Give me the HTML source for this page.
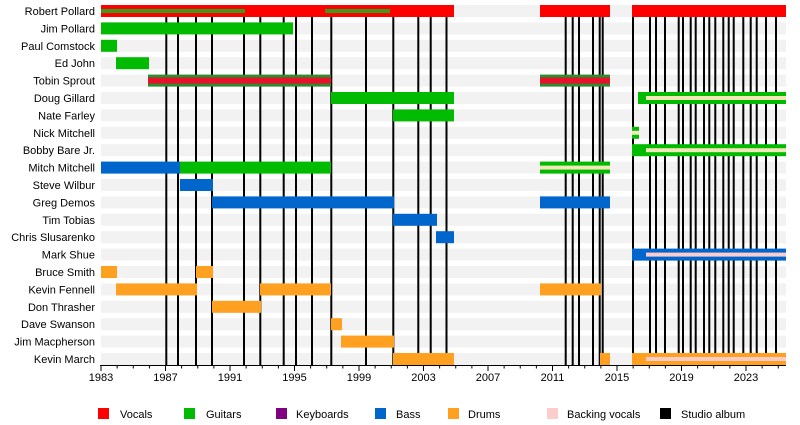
<!DOCTYPE html>
<html><head><meta charset="utf-8"><style>body{margin:0;background:#fff}svg{display:block}text{font-family:"Liberation Sans",sans-serif;font-size:11px;fill:#000}</style></head>
<body>
<svg id="s" width="800" height="425" xmlns="http://www.w3.org/2000/svg">
<g id="bg"></g><g id="vl"></g><g id="bars"></g>
<g text-anchor="end">
<text x="95" y="15">Robert Pollard</text>
<text x="95" y="32.4">Jim Pollard</text>
<text x="95" y="49.8">Paul Comstock</text>
<text x="95" y="67.2">Ed John</text>
<text x="95" y="84.6">Tobin Sprout</text>
<text x="95" y="102">Doug Gillard</text>
<text x="95" y="119.4">Nate Farley</text>
<text x="95" y="136.8">Nick Mitchell</text>
<text x="95" y="154.2">Bobby Bare Jr.</text>
<text x="95" y="171.6">Mitch Mitchell</text>
<text x="95" y="189">Steve Wilbur</text>
<text x="95" y="206.4">Greg Demos</text>
<text x="95" y="223.8">Tim Tobias</text>
<text x="95" y="241.2">Chris Slusarenko</text>
<text x="95" y="258.6">Mark Shue</text>
<text x="95" y="276">Bruce Smith</text>
<text x="95" y="293.4">Kevin Fennell</text>
<text x="95" y="310.8">Don Thrasher</text>
<text x="95" y="328.2">Dave Swanson</text>
<text x="95" y="345.6">Jim Macpherson</text>
<text x="95" y="363">Kevin March</text>
</g>
<line x1="100" y1="365.5" x2="786" y2="365.5" stroke="#000"/>
<g id="ticks"></g>
<g text-anchor="middle">
<text x="101" y="381">1983</text><text x="165.5" y="381">1987</text><text x="230" y="381">1991</text><text x="294.5" y="381">1995</text><text x="359" y="381">1999</text><text x="423.5" y="381">2003</text><text x="488" y="381">2007</text><text x="552.5" y="381">2011</text><text x="617" y="381">2015</text><text x="681.5" y="381">2019</text><text x="746" y="381">2023</text>
</g>
<rect x="98" y="408" width="11" height="11" fill="#ff0000"/><text x="120" y="418">Vocals</text>
<rect x="184" y="408" width="11" height="11" fill="#00bb00"/><text x="206" y="418">Guitars</text>
<rect x="276" y="408" width="11" height="11" fill="#800080"/><text x="296" y="418">Keyboards</text>
<rect x="375" y="408" width="11" height="11" fill="#0066cc"/><text x="396" y="418">Bass</text>
<rect x="448" y="408" width="11" height="11" fill="#ffa020"/><text x="468" y="418">Drums</text>
<rect x="547" y="408" width="11" height="11" fill="#ffcccc"/><text x="567" y="418">Backing vocals</text>
<rect x="660" y="408" width="11" height="11" fill="#000"/><text x="681" y="418">Studio album</text>
</svg>
<script>
const NS="http://www.w3.org/2000/svg";
function r(g,x1,x2,y,h,c){const e=document.createElementNS(NS,"rect");e.setAttribute("x",x1);e.setAttribute("y",y);e.setAttribute("width",x2-x1);e.setAttribute("height",h);e.setAttribute("fill",c);document.getElementById(g).appendChild(e);}
function l(g,x1,y1,x2,y2,w){const e=document.createElementNS(NS,"line");e.setAttribute("x1",x1);e.setAttribute("y1",y1);e.setAttribute("x2",x2);e.setAttribute("y2",y2);e.setAttribute("stroke","#000");e.setAttribute("stroke-width",w);document.getElementById(g).appendChild(e);}
const T=i=>5+i*17.4;
for(let i=0;i<21;i++)r("bg",101,786,T(i),12,"#f2f2f2");
[166.3,178,196,212,244,260.3,283.7,296,312,331.3,366,393.3,418.3,430.7,446.5,565.7,572.7,579,593,599.7,602.7,633,650,656,665,678.7,683,690.7,695.7,704,709.3,715.3,723.3,728.7,733.7,743.3,750.7,756.7,766,776].forEach(x=>l("vl",x,8,x,365,2));
for(let y=0;y<=42;y++){const x=101+y*16.125;if(x>786)break;l("ticks",x,365,x,y%4==0?371:368.5,1);}
const R="#ff0000",G="#00bb00",B="#0066cc",O="#ffa020",C="#f3e6b8",P="#ffcccc",D="#2e8b2e";
function b(i,x1,x2,c){r("bars",x1,x2,T(i),12,c);}
function in_(i,x1,x2,c){r("bars",x1,x2,T(i)+4,4,c);}
b(0,101,454,R);b(0,540,610,R);b(0,632,786,R);in_(0,101,245,"#3a9a1a");in_(0,325,390,"#3a9a1a");
b(1,101,293,G);b(2,101,117,G);b(3,116,149,G);
b(4,148,331,D);r("bars",148,331,T(4)+3,6,"#e8102a");b(4,540,610,D);r("bars",540,610,T(4)+3,6,"#e8102a");
b(5,331,454,G);b(5,638,786,G);in_(5,646,786,C);
b(6,393,454,G);
b(7,632,639,G);in_(7,632,639,C);
b(8,632,786,G);in_(8,646,786,C);
b(9,101,180,B);b(9,180,331,G);b(9,540,610,G);in_(9,540,610,C);
b(10,180,213,B);b(11,212,394,B);b(11,540,610,B);b(12,393,437,B);b(13,436,454,B);
b(14,632,786,B);in_(14,646,786,P);
b(15,101,117,O);b(15,196,213,O);
b(16,116,197,O);b(16,260,331,O);b(16,540,601,O);
b(17,212,261,O);b(18,331,342,O);b(19,341,394,O);
b(20,393,454,O);b(20,600,610,O);b(20,632,786,O);in_(20,646,786,P);
</script>
</body></html>
